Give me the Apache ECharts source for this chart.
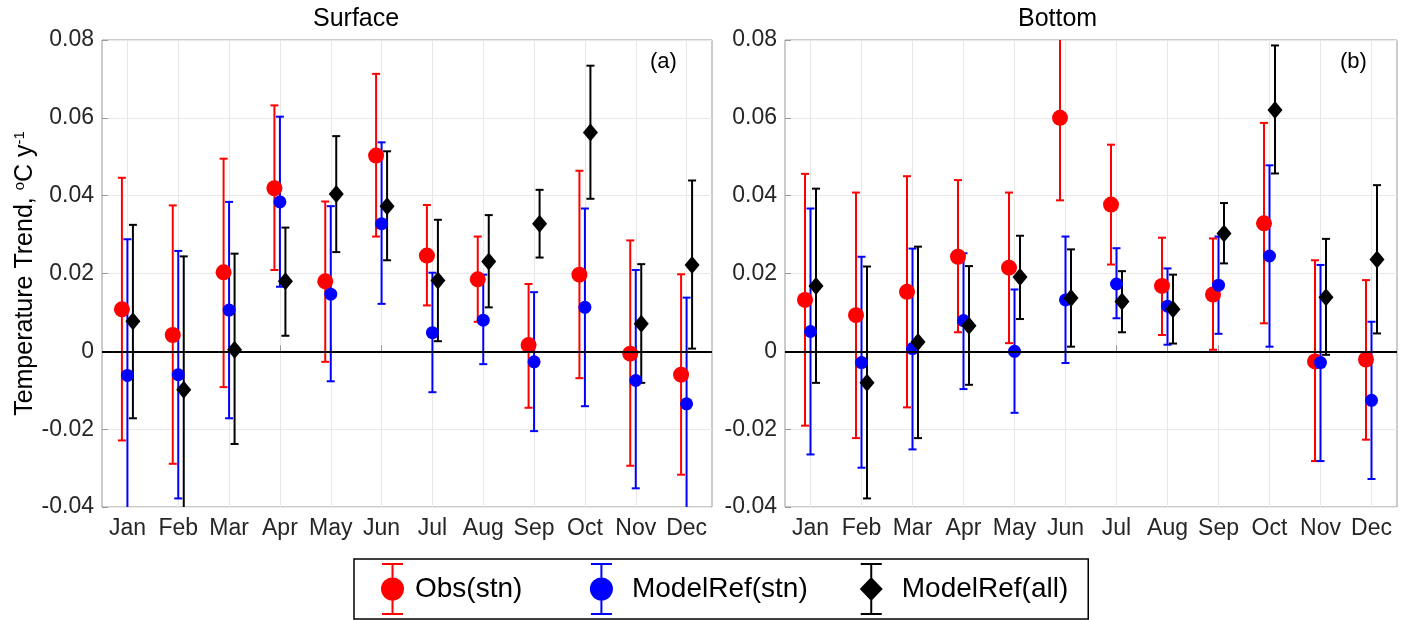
<!DOCTYPE html>
<html lang="en">
<head>
<meta charset="UTF-8">
<script src="https://cdn.jsdelivr.net/npm/echarts@6/dist/echarts.min.js"></script>
<title>Temperature trend by month</title>
<style>
  html, body { margin: 0; padding: 0; background: #fff; }
</style>
</head>
<body>
<div id="chart" style="width:1409px;height:620px;"></div>
<script type="text/javascript">
// months on the x axis
var months = ['Jan', 'Feb', 'Mar', 'Apr', 'May', 'Jun', 'Jul', 'Aug', 'Sep', 'Oct', 'Nov', 'Dec'];

// each row: [trend, lower bound, upper bound]
// (a) Surface
var surfObs = [
  [0.0108, -0.0229, 0.0446], [0.0042, -0.0289, 0.0375], [0.0203, -0.0092, 0.0495],
  [0.0419, 0.0209, 0.0632], [0.018, -0.0027, 0.0385], [0.0503, 0.0295, 0.0713],
  [0.0246, 0.0118, 0.0376], [0.0185, 0.0076, 0.0295], [0.0016, -0.0145, 0.0173],
  [0.0197, -0.0069, 0.0464], [-0.0006, -0.0294, 0.0285], [-0.006, -0.0317, 0.0198]
];
var surfModStn = [
  [-0.0062, -0.0412, 0.0288], [-0.006, -0.0378, 0.0258], [0.0106, -0.0172, 0.0384],
  [0.0384, 0.0166, 0.0603], [0.0147, -0.0077, 0.0373], [0.0328, 0.0122, 0.0537],
  [0.0048, -0.0105, 0.0202], [0.008, -0.0033, 0.0197], [-0.0027, -0.0205, 0.0152],
  [0.0113, -0.0141, 0.0367], [-0.0075, -0.0352, 0.0209], [-0.0135, -0.0408, 0.0138]
];
var surfModAll = [
  [0.0077, -0.0172, 0.0325], [-0.0099, -0.0442, 0.0244], [0.0004, -0.0238, 0.0251],
  [0.018, 0.004, 0.0318], [0.0404, 0.0255, 0.0553], [0.0373, 0.0234, 0.0514],
  [0.0182, 0.0026, 0.0338], [0.0231, 0.0113, 0.035], [0.0328, 0.0241, 0.0415],
  [0.0562, 0.0392, 0.0734], [0.0071, -0.0081, 0.0224], [0.0222, 0.0007, 0.0439]
];
// (b) Bottom
var botObs = [
  [0.0132, -0.0191, 0.0456], [0.0093, -0.0223, 0.0408], [0.0153, -0.0144, 0.045],
  [0.0243, 0.0049, 0.044], [0.0215, 0.0021, 0.0408], [0.06, 0.0388, 0.0812],
  [0.0377, 0.0223, 0.0531], [0.0168, 0.0042, 0.0292], [0.0146, 0.0004, 0.029],
  [0.0329, 0.0072, 0.0587], [-0.0026, -0.0282, 0.0234], [-0.0021, -0.0227, 0.0183]
];
var botModStn = [
  [0.0051, -0.0265, 0.0367], [-0.0029, -0.0299, 0.0243], [0.0007, -0.0252, 0.0264],
  [0.0079, -0.0097, 0.0252], [0.0, -0.0158, 0.0159], [0.0132, -0.003, 0.0295],
  [0.0173, 0.0085, 0.0265], [0.0116, 0.0017, 0.0213], [0.017, 0.0045, 0.0295],
  [0.0245, 0.0012, 0.0478], [-0.0029, -0.0282, 0.0222], [-0.0126, -0.0328, 0.0076]
];
var botModAll = [
  [0.0168, -0.0081, 0.0418], [-0.0081, -0.0378, 0.0218], [0.0024, -0.0223, 0.0269],
  [0.0066, -0.0086, 0.0219], [0.0191, 0.0083, 0.0297], [0.0137, 0.0012, 0.0262],
  [0.0128, 0.0049, 0.0206], [0.0108, 0.002, 0.0197], [0.0303, 0.0226, 0.0381],
  [0.062, 0.0457, 0.0786], [0.0139, -0.0009, 0.0289], [0.0236, 0.0046, 0.0427]
];
var yTicks = { min: -0.04, max: 0.08, interval: 0.02 };

var chart = echarts.init(document.getElementById('chart'));
var FONT = 'Liberation Sans, Arial, Helvetica, sans-serif';

// error bar drawn through the axes, shifted a few px sideways
function errBar(dx, color) {
  return function (params, api) {
    var lo = api.coord([api.value(0), api.value(1)]);
    var hi = api.coord([api.value(0), api.value(2)]);
    var x = lo[0] + dx, w = 4;
    var st = { stroke: color, lineWidth: 2 };
    return {
      type: 'group',
      children: [
        { type: 'line', shape: { x1: x, y1: hi[1], x2: x, y2: lo[1] }, style: st },
        { type: 'line', shape: { x1: x - w, y1: hi[1], x2: x + w, y2: hi[1] }, style: st },
        { type: 'line', shape: { x1: x - w, y1: lo[1], x2: x + w, y2: lo[1] }, style: st }
      ]
    };
  };
}

function groupSeries(name, rows, gi, dx, color, symbol, size) {
  return [{
    name: name, type: 'custom', xAxisIndex: gi, yAxisIndex: gi, clip: true, z: 3,
    itemStyle: { color: color },
    renderItem: errBar(dx, color),
    encode: { x: 0, y: [1, 2] },
    data: rows.map(function (r, i) { return [i, r[1], r[2]]; })
  }, {
    name: name, type: 'scatter', xAxisIndex: gi, yAxisIndex: gi, z: 3,
    symbol: symbol, symbolSize: size, symbolOffset: [dx, 0],
    itemStyle: { color: color, opacity: 1 },
    data: rows.map(function (r, i) { return [i, r[0]]; })
  }];
}

function zeroLine(gi) {
  return {
    type: 'line', xAxisIndex: gi, yAxisIndex: gi, data: [], z: 1,
    markLine: {
      silent: true, symbol: 'none', label: { show: false },
      lineStyle: { color: '#000', width: 2, type: 'solid' },
      data: [{ yAxis: 0 }]
    }
  };
}

function xAx(gi) {
  return {
    type: 'category', gridIndex: gi, data: months, boundaryGap: true,
    axisLine: { show: false },
    axisTick: { show: true, inside: true, alignWithLabel: true, length: 6, lineStyle: { color: '#999' } },
    axisLabel: { color: '#262626', fontSize: 23, fontFamily: FONT, margin: 10, interval: 0 },
    splitLine: { show: true, alignWithLabel: true, lineStyle: { color: '#e8e8e8', width: 1 } }
  };
}

function yAx(gi) {
  var a = {
    type: 'value', gridIndex: gi, min: yTicks.min, max: yTicks.max, interval: yTicks.interval,
    axisLine: { show: false },
    axisTick: { show: true, inside: true, length: 6, lineStyle: { color: '#999' } },
    axisLabel: { color: '#262626', fontSize: 23, fontFamily: FONT, margin: 8 },
    splitLine: { show: true, lineStyle: { color: '#e8e8e8', width: 1 } }
  };
  if (gi === 0) {
    a.name = '{n|Temperature Trend, }{s|o}{n|C y}{s|-1}';
    a.nameLocation = 'middle';
    a.nameRotate = 90;
    a.nameGap = 60;
    a.nameTextStyle = {
      rich: {
        n: { fontSize: 25, fontFamily: FONT, color: '#000' },
        s: { fontSize: 15, fontFamily: FONT, color: '#000', verticalAlign: 'top', padding: [0, 0, 9, 0] }
      }
    };
  }
  return a;
}

function legendIcon(kind) {
  var bars = 'M1,0H22V2H1Z M10.5,0H12.5V52H10.5Z M1,50H22V52H1Z ';
  if (kind === 'circle') return 'path://' + bars + 'M0,26A11.5,11.5,0,1,1,23,26A11.5,11.5,0,1,1,0,26Z';
  return 'path://' + bars + 'M11.5,14L23,26L11.5,38L0,26Z';
}

var series = [zeroLine(0), zeroLine(1)]
  .concat(groupSeries('Obs(stn)', surfObs, 0, -5.5, '#ff0000', 'circle', 16))
  .concat(groupSeries('ModelRef(stn)', surfModStn, 0, 0, '#0000ff', 'circle', 13))
  .concat(groupSeries('ModelRef(all)', surfModAll, 0, 5.5, '#000000', 'diamond', [15, 18]))
  .concat(groupSeries('Obs(stn)', botObs, 1, -5.5, '#ff0000', 'circle', 16))
  .concat(groupSeries('ModelRef(stn)', botModStn, 1, 0, '#0000ff', 'circle', 13))
  .concat(groupSeries('ModelRef(all)', botModAll, 1, 5.5, '#000000', 'diamond', [15, 18]));

var option = {
  backgroundColor: '#fff',
  animation: false,
  title: [
    { text: 'Surface', left: 313, top: 7, padding: 0, textStyle: { fontSize: 25, fontWeight: 'normal', fontFamily: FONT, color: '#000' } },
    { text: 'Bottom', left: 1018, top: 7, padding: 0, textStyle: { fontSize: 25, fontWeight: 'normal', fontFamily: FONT, color: '#000' } },
    { text: '(a)', left: 650, top: 51, padding: 0, textStyle: { fontSize: 22, fontWeight: 'normal', fontFamily: FONT, color: '#000' } },
    { text: '(b)', left: 1340, top: 51, padding: 0, textStyle: { fontSize: 22, fontWeight: 'normal', fontFamily: FONT, color: '#000' } }
  ],
  legend: {
    left: 354, top: 559,
    padding: [4, 20, 4, 27],
    itemWidth: 23, itemHeight: 52, itemGap: 52,
    borderColor: '#000', borderWidth: 1.5,
    selectedMode: false,
    formatter: function (n) { return n === 'Obs(stn)' ? n + '\u00a0\u00a0' : n; },
    textStyle: { fontSize: 28, fontFamily: FONT, color: '#000', padding: [0, 0, 0, 14] },
    data: [
      { name: 'Obs(stn)', icon: legendIcon('circle'), textStyle: { padding: [0, 0, 0, 6] } },
      { name: 'ModelRef(stn)', icon: legendIcon('circle') },
      { name: 'ModelRef(all)', icon: legendIcon('diamond') }
    ]
  },
  grid: [
    { left: 102, top: 40, width: 610, height: 467, show: true, borderColor: '#999', borderWidth: 1, containLabel: false },
    { left: 785, top: 40, width: 612, height: 467, show: true, borderColor: '#999', borderWidth: 1, containLabel: false }
  ],
  xAxis: [xAx(0), xAx(1)],
  yAxis: [yAx(0), yAx(1)],
  series: series
};
chart.setOption(option);
</script>
</body>
</html>
